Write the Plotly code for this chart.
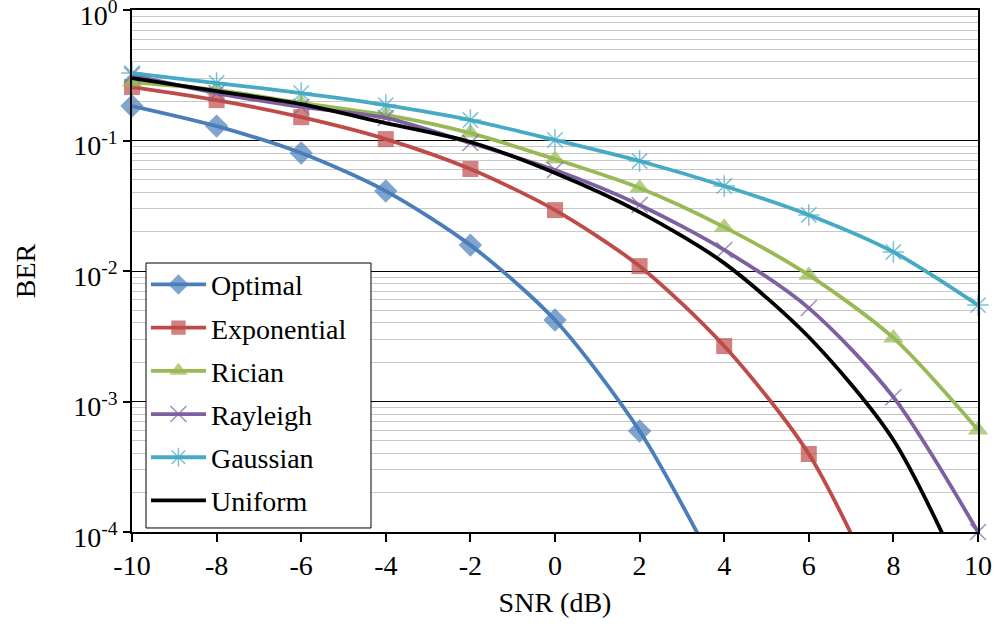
import plotly.graph_objects as go

snr = [-10, -8, -6, -4, -2, 0, 2, 4, 6, 8, 10]

optimal = [0.184, 0.129, 0.0802, 0.041, 0.0158, 0.00421, 0.000594, 4e-5]
exponential = [0.257, 0.204, 0.151, 0.1026, 0.0605, 0.0293, 0.0109, 0.00266, 0.000396, 2e-5]
rician = [0.281, 0.244, 0.194, 0.157, 0.114, 0.0721, 0.0433, 0.0217, 0.0093, 0.00307, 0.000605]
rayleigh = [0.318, 0.231, 0.181, 0.149, 0.0957, 0.0594, 0.0321, 0.0145, 0.0052, 0.00108, 1e-4]
gaussian = [0.329, 0.276, 0.231, 0.187, 0.1436, 0.101, 0.0697, 0.0448, 0.0269, 0.014, 0.00548]
uniform = [0.301, 0.239, 0.19, 0.136, 0.0975, 0.0564, 0.0283, 0.0115, 0.00312, 0.000507, 2.5e-5]

y_tickvals = [1, 0.1, 0.01, 0.001, 0.0001]
y_ticktext = ["10<sup>0</sup>", "10<sup>-1</sup>", "10<sup>-2</sup>", "10<sup>-3</sup>", "10<sup>-4</sup>"]
x_tickvals = [-10, -8, -6, -4, -2, 0, 2, 4, 6, 8, 10]
x_ticktext = ["-10", "-8", "-6", "-4", "-2", "0", "2", "4", "6", "8", "10"]

YMIN = 1e-4
minor_vals = [m * 10.0 ** e for e in range(-4, 0) for m in range(2, 10)]

series = [
    ("Optimal", optimal, "#4A7EBB", "diamond", 18, 0),
    ("Exponential", exponential, "#BE4B48", "square", 16, 0),
    ("Rician", rician, "#98B954", "triangle-up", 18, 0),
    ("Rayleigh", rayleigh, "#7D60A0", "x-thin", 16, 1.5),
    ("Gaussian", gaussian, "#46AAC5", "asterisk", 18, 1.5),
    ("Uniform", uniform, "#000000", None, 0, 0),
]

fig = go.Figure()
for i, (name, vals, color, sym, size, lw) in enumerate(series):
    xs = snr[:len(vals)]
    sizes = [size if v >= YMIN * 0.999 else 0 for v in vals]
    if sym is None:
        mode = "lines"
        marker = None
    else:
        mode = "lines+markers"
        marker = dict(symbol=sym, size=sizes, color=color,
                      line=dict(color=color, width=lw if lw else 0))
    fig.add_trace(go.Scatter(
        x=xs, y=vals, name=name, mode=mode,
        line=dict(color=color, width=3.8, shape="spline", smoothing=0.8),
        marker=marker, cliponaxis=False, legendgroup=f"g{i}",
    ))

FS = 28
axis_font = dict(family="Liberation Serif", size=FS, color="black")

# legend frame (drawn as a white box, legend entries sit on it)
fig.add_shape(type="rect", xref="paper", yref="paper",
              x0=0.01655, x1=0.2825, y0=0.0077, y1=0.5153,
              fillcolor="white", line=dict(color="black", width=1), layer="above")

fig.update_layout(
    width=997, height=626,
    margin=dict(l=132, r=19, t=10, b=94, autoexpand=False),
    paper_bgcolor="white", plot_bgcolor="white",
    font=axis_font,
    showlegend=True,
    legend=dict(
        x=0.0165, y=0.012, xanchor="left", yanchor="bottom",
        bgcolor="rgba(0,0,0,0)", borderwidth=0,
        font=dict(family="Liberation Serif", size=FS, color="black"),
        traceorder="grouped", tracegroupgap=3.8, itemwidth=55,
    ),
    xaxis=dict(
        range=[-10, 10], tickvals=x_tickvals, ticktext=x_ticktext,
        ticks="outside", ticklen=8, tickwidth=1.5, tickcolor="black",
        showline=True, linecolor="black", linewidth=1.5, mirror=True,
        showgrid=False, zeroline=False, automargin=False,
        title=dict(text="SNR (dB)", font=axis_font, standoff=12),
        tickfont=axis_font,
    ),
    yaxis=dict(
        type="log", range=[-4, 0.0005], tickvals=y_tickvals, ticktext=y_ticktext,
        ticks="outside", ticklen=7, tickwidth=1.5, tickcolor="black",
        showline=True, linecolor="black", linewidth=1.5, mirror=True,
        showgrid=True, gridcolor="black", gridwidth=1, automargin=False,
        zeroline=False, ticklabeloverflow="allow", ticklabelshift=5,
        minor=dict(tickmode="array", tickvals=minor_vals, showgrid=True,
                   gridcolor="#c8c8c8", gridwidth=1, ticks=""),
        title=dict(text="BER", font=axis_font, standoff=30),
        tickfont=axis_font,
    ),
)

fig.write_html("out.html")
